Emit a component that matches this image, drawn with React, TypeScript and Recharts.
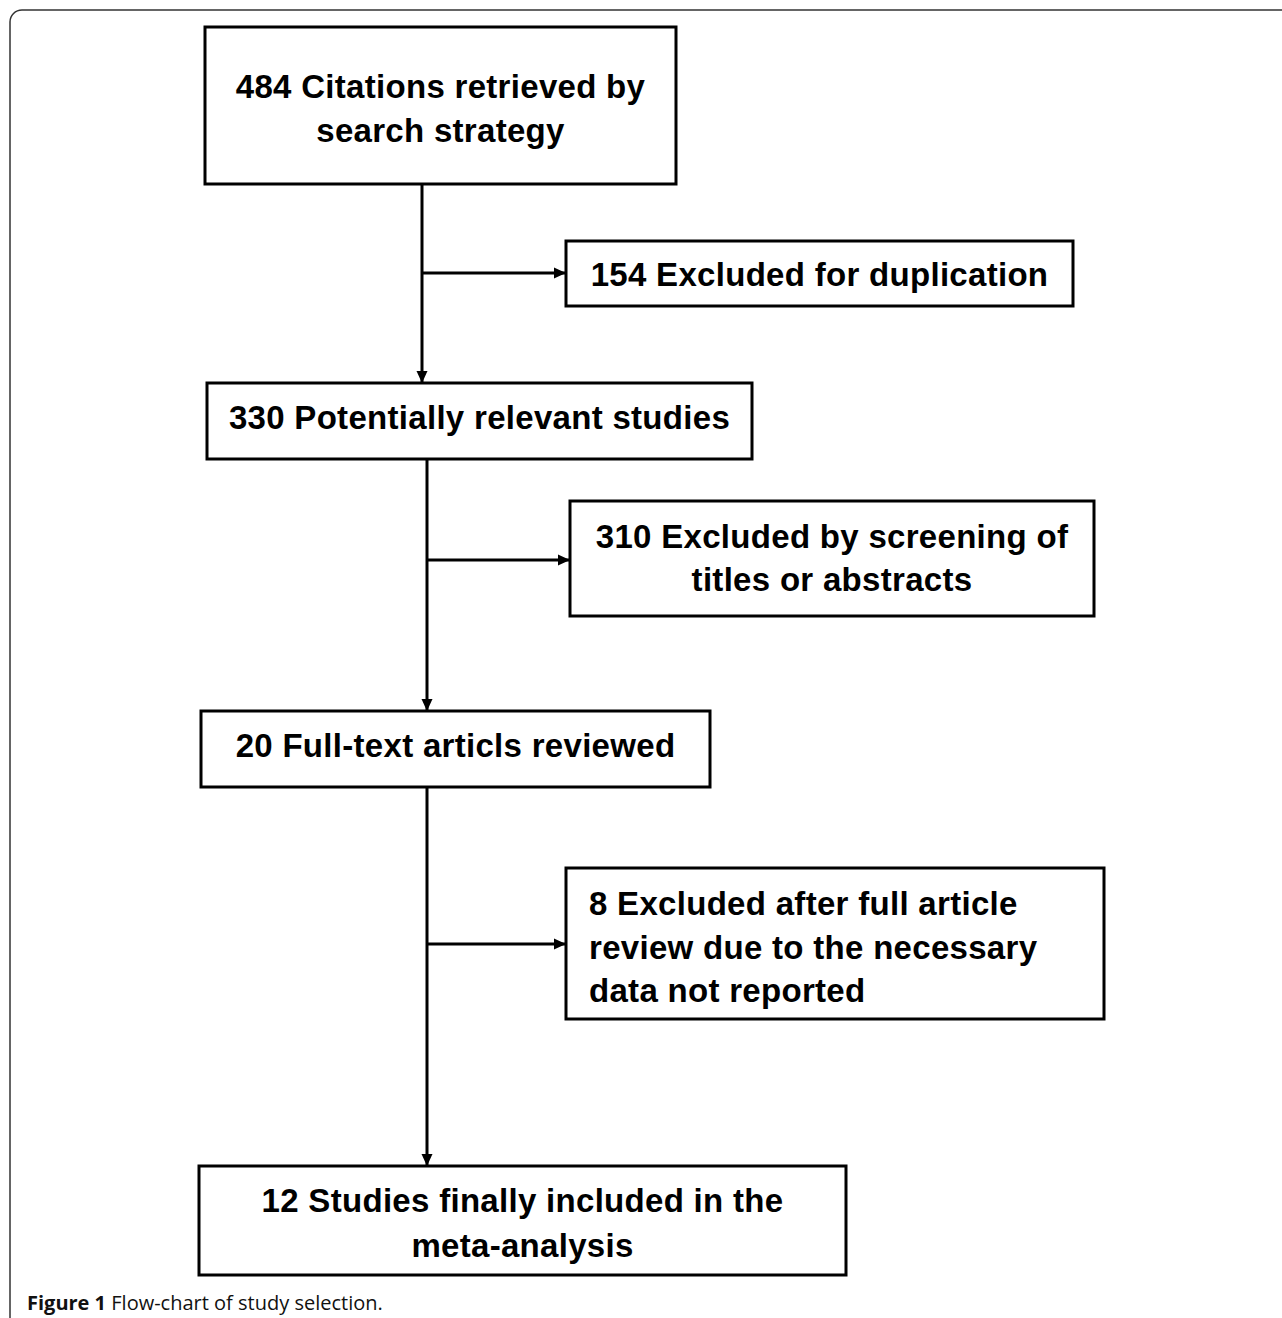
import React from 'react';
import {
  ScatterChart,
  Scatter,
  XAxis,
  YAxis,
  ReferenceArea,
  ReferenceLine,
} from 'recharts';

const W = 1282;
const H = 1318;

// box contents, one entry per box
const boxLines = [
  ['484 Citations retrieved by', 'search strategy'],
  ['154 Excluded for duplication'],
  ['330 Potentially relevant studies'],
  ['310 Excluded by screening of', 'titles or abstracts'],
  ['20 Full-text articls reviewed'],
  ['8 Excluded after full article', 'review due to the necessary', 'data not reported'],
  ['12 Studies finally included in the', 'meta-analysis'],
];
const boxAlign = ['middle', 'middle', 'middle', 'middle', 'middle', 'start', 'middle'];

// box extents (pixels)
const boxLeft = [205, 566, 207, 570, 201, 566, 199];
const boxRight = [676, 1073, 752, 1094, 710, 1104, 846];
const boxTop = [27, 241, 383, 501, 711, 868, 1166];
const boxBottom = [184, 306, 459, 616, 787, 1019, 1275];
const textLineY = [[86, 130], [274], [417], [536, 579], [745], [903, 947, 990], [1200, 1245]];

// connectors: [x1, y1, x2, y2], each ends with an arrow head
const connectors = [
  [422, 184, 422, 383],
  [422, 273, 566, 273],
  [427, 459, 427, 711],
  [427, 560, 570, 560],
  [427, 787, 427, 1166],
  [427, 944, 566, 944],
];

const textPoints = boxLines.flatMap((lines, b) =>
  lines.map((t, i) => ({
    x: boxAlign[b] === 'start' ? boxLeft[b] + 23 : (boxLeft[b] + boxRight[b]) / 2,
    y: textLineY[b][i],
    text: t,
    anchor: boxAlign[b],
  }))
);

const arrowPoints = connectors.map(([x1, y1, x2, y2]) => ({
  x: x2,
  y: y2,
  dir: x1 === x2 ? 'down' : 'right',
}));

const TextShape = (props: any) => {
  const { cx, cy, payload } = props;
  return (
    <text
      x={cx}
      y={cy}
      textAnchor={payload.anchor}
      dominantBaseline="central"
      fontFamily="'Liberation Sans', Arial, sans-serif"
      fontWeight="bold"
      fontSize={33}
      letterSpacing={0.3}
      fill="#000"
    >
      {payload.text}
    </text>
  );
};

const ArrowShape = (props: any) => {
  const { cx, cy, payload } = props;
  const d =
    payload.dir === 'down'
      ? `M${cx},${cy} L${cx - 5.5},${cy - 12} L${cx + 5.5},${cy - 12} Z`
      : `M${cx},${cy} L${cx - 12},${cy - 5.5} L${cx - 12},${cy + 5.5} Z`;
  return <path d={d} fill="#000" />;
};

const App = () => {
  return (
    <div style={{ position: 'absolute', left: 0, top: 0, width: W, height: H, background: '#fff' }}>
      <ScatterChart width={W} height={H} margin={{ top: 0, right: 0, bottom: 0, left: 0 }}>
        <XAxis type="number" dataKey="x" domain={[0, W]} hide allowDataOverflow />
        <YAxis type="number" dataKey="y" domain={[0, H]} reversed hide allowDataOverflow />
        {/* outer figure frame */}
        <ReferenceArea
          x1={10}
          x2={W + 20}
          y1={10}
          y2={H + 20}
          radius={12}
          ifOverflow="visible"
          fill="none"
          stroke="#333"
          strokeWidth={1.5}
        />
        {connectors.map(([x1, y1, x2, y2], i) => (
          <ReferenceLine
            key={`c-${i}`}
            segment={[{ x: x1, y: y1 }, { x: x2, y: y2 }]}
            stroke="#000"
            strokeWidth={3}
            ifOverflow="visible"
          />
        ))}
        {boxLeft.map((l, i) => (
          <ReferenceArea
            key={`b-${i}`}
            x1={l}
            x2={boxRight[i]}
            y1={boxTop[i]}
            y2={boxBottom[i]}
            fill="#fff"
            fillOpacity={1}
            stroke="#000"
            strokeWidth={3}
            ifOverflow="visible"
          />
        ))}
        <Scatter data={arrowPoints} shape={<ArrowShape />} isAnimationActive={false} />
        <Scatter data={textPoints} shape={<TextShape />} isAnimationActive={false} />
      </ScatterChart>
      <div
        style={{
          position: 'absolute',
          left: 27,
          top: 1289,
          fontFamily: "'Open Sans', 'Noto Sans', sans-serif",
          fontSize: 20,
          color: '#111',
          whiteSpace: 'nowrap',
        }}
      >
        <b>Figure 1</b> Flow-chart of study selection.
      </div>
    </div>
  );
};

export default App;
